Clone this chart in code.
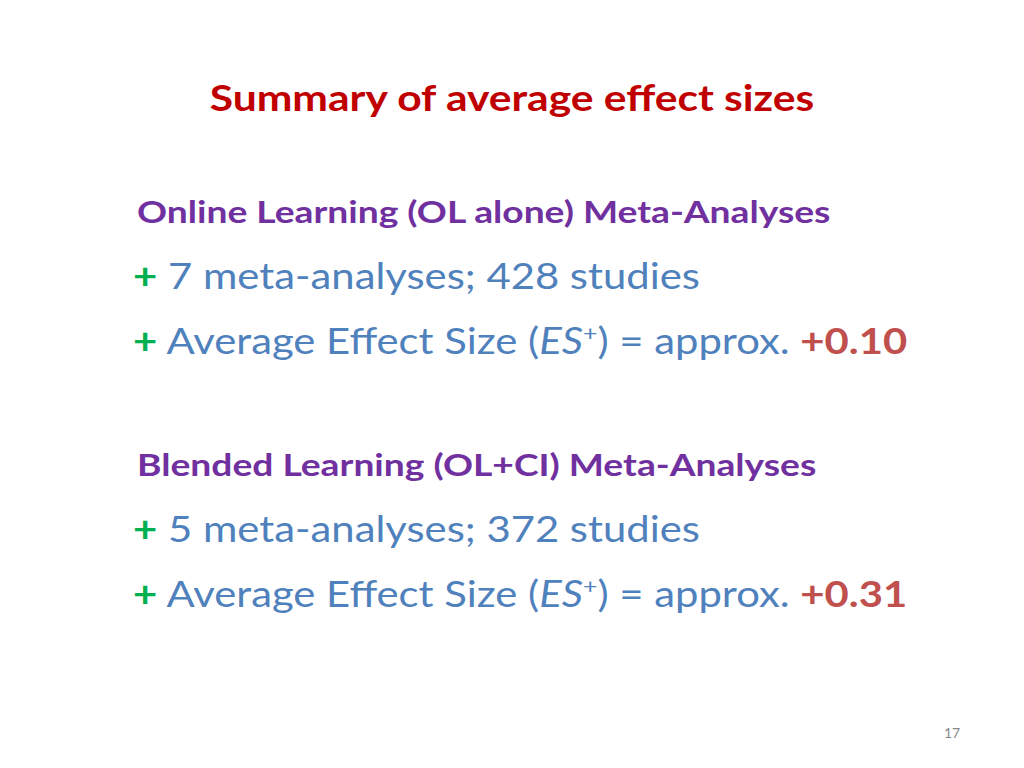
<!DOCTYPE html>
<html>
<head>
<meta charset="utf-8">
<script src="https://cdn.jsdelivr.net/npm/chart.js@4"></script>
<style>
  html, body { margin: 0; padding: 0; background: #fff; }
  #slide { position: relative; width: 1024px; height: 768px; overflow: hidden; font-family: Lato, "Open Sans", sans-serif; }
  .t { position: absolute; white-space: nowrap; line-height: 1; }
  #title { left: 0; width: 1024px; text-align: center; top: 78px; font-size: 37px; font-weight: bold; color: #C00000; transform: scaleX(1.15); transform-origin: 512px 0; }
  .head { left: 137px; font-size: 30px; font-weight: bold; color: #7030A0; transform: scaleX(1.24); transform-origin: 0 0; }
  .item { left: 133px; font-size: 37px; color: #4F81BD; transform: scaleX(1.13); transform-origin: 0 0; }
  .plus { color: #00B050; font-weight: bold; }
  .val { color: #C0504D; font-weight: bold; }
  #page { left: 944px; top: 726px; font-size: 14px; color: #888; }
</style>
</head>
<body>
<div id="slide">
  <div class="t" id="title">Summary of average effect sizes</div>
  <div class="t" id="page">17</div>
</div>
<script>
// slide content
const groups = ['Online Learning (OL alone) Meta-Analyses', 'Blended Learning (OL+CI) Meta-Analyses'];
const metaCounts = [7, 5];
const studyCounts = [428, 372];
const effectSizes = ['+0.10', '+0.31'];

const slide = document.getElementById('slide');
const groupTop = [196, 449];

groups.forEach((g, i) => {
    const top = groupTop[i];
    const h = document.createElement('div');
    h.className = 't head';
    h.style.top = top + 'px';
    h.textContent = g;
    slide.appendChild(h);

    const a = document.createElement('div');
    a.className = 't item';
    a.style.top = (top + 60) + 'px';
    a.innerHTML = '<span class="plus">+</span> ' + metaCounts[i] + ' meta-analyses; ' + studyCounts[i] + ' studies';
    slide.appendChild(a);

    const b = document.createElement('div');
    b.className = 't item';
    b.style.top = (top + 125) + 'px';
    b.innerHTML = '<span class="plus">+</span> Average Effect Size (<i>ES</i><sup style="font-size:22px">+</sup>) = approx. <span class="val">' + effectSizes[i] + '</span>';
    slide.appendChild(b);
});
</script>
</body>
</html>
